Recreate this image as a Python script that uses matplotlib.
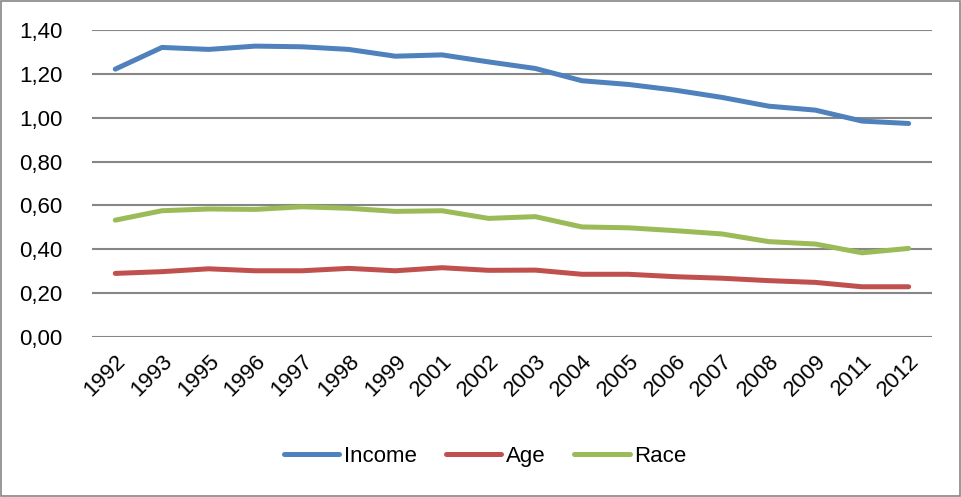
import matplotlib
matplotlib.use("Agg")
import matplotlib.pyplot as plt
from matplotlib.patches import Rectangle
from matplotlib.ticker import FuncFormatter

# --------------------------
# Data
# --------------------------
years = ["1992", "1993", "1995", "1996", "1997", "1998", "1999", "2001", "2002",
         "2003", "2004", "2005", "2006", "2007", "2008", "2009", "2011", "2012"]
income = [1.222, 1.321, 1.312, 1.327, 1.324, 1.312, 1.281, 1.287, 1.255,
          1.225, 1.169, 1.152, 1.126, 1.093, 1.053, 1.035, 0.985, 0.974]
age = [0.290, 0.298, 0.311, 0.302, 0.302, 0.313, 0.302, 0.316, 0.304,
       0.305, 0.286, 0.286, 0.275, 0.268, 0.257, 0.249, 0.229, 0.229]
race = [0.533, 0.576, 0.584, 0.582, 0.594, 0.587, 0.573, 0.576, 0.541,
        0.549, 0.502, 0.498, 0.485, 0.470, 0.435, 0.424, 0.384, 0.404]
yticks = [0.0, 0.2, 0.4, 0.6, 0.8, 1.0, 1.2, 1.4]

plt.rcParams["font.family"] = ["Liberation Sans", "DejaVu Sans"]
FS = 16

fig = plt.figure(figsize=(9.62, 4.97), dpi=100)
ax = fig.add_axes([0.0956, 0.322, 0.8732, 0.6174])

x = list(range(len(years)))
ax.plot(x, income, color="#4F81BD", lw=3.6, solid_capstyle="round", label="Income")
ax.plot(x, age, color="#C0504D", lw=3.6, solid_capstyle="round", label="Age")
ax.plot(x, race, color="#9BBB59", lw=3.6, solid_capstyle="round", label="Race")

ax.set_xlim(-0.5, len(years) - 0.5)
ax.set_ylim(0, 1.4)
ax.set_yticks(yticks)
ax.yaxis.set_major_formatter(FuncFormatter(lambda v, p: f"{v:.2f}".replace(".", ",")))
ax.set_xticks(x)
ax.set_xticklabels(years, rotation=45, ha="right", rotation_mode="anchor")
ax.tick_params(axis="both", length=0, labelsize=FS, colors="black")
ax.tick_params(axis="x", pad=10)
ax.tick_params(axis="y", pad=21)
ax.grid(axis="y", color="#868686", lw=1.5)
ax.set_axisbelow(True)
for s in ax.spines.values():
    s.set_visible(False)

ax.legend(loc="center", bbox_to_anchor=(0.468, -0.39), ncol=3, frameon=False,
          fontsize=FS, handlelength=2.5, handletextpad=0.2, columnspacing=1.3)

fig.patches.append(Rectangle((0.001, 0.002), 0.997, 0.995, transform=fig.transFigure,
                             fill=False, edgecolor="#868686", lw=1.2))

fig.savefig("out.png", dpi=100)
